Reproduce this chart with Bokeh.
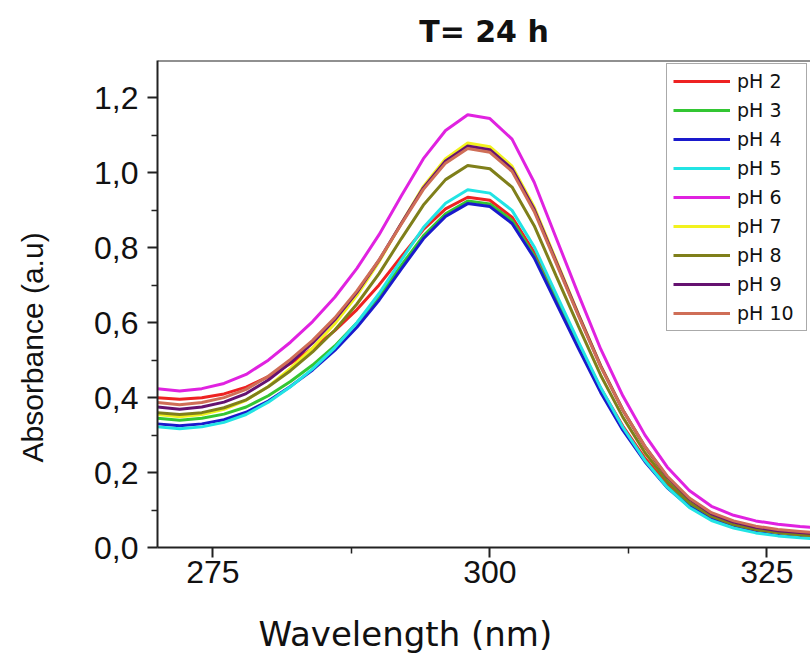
import math
from bokeh.plotting import figure
from bokeh.layouts import row, column
from bokeh.models import FixedTicker, CustomJSTickFormatter, Span, Range1d, Label
from bokeh.embed import file_html
from bokeh.resources import INLINE

# ---- data ----
wavelength = [270, 272, 274, 276, 278, 280, 282, 284, 286, 288, 290, 292, 294, 296, 298,
              300, 302, 304, 306, 308, 310, 312, 314, 316, 318, 320, 322, 324, 326, 328, 330]

ph2 = [0.400, 0.396, 0.400, 0.410, 0.428, 0.456, 0.491, 0.531, 0.579, 0.635, 0.701, 0.776, 0.849, 0.904, 0.935,
       0.927, 0.882, 0.788, 0.666, 0.544, 0.425, 0.324, 0.238, 0.169, 0.117, 0.083, 0.064, 0.051, 0.044, 0.039, 0.035]
ph3 = [0.345, 0.340, 0.345, 0.356, 0.375, 0.405, 0.443, 0.487, 0.538, 0.600, 0.671, 0.753, 0.832, 0.891, 0.925,
       0.917, 0.873, 0.779, 0.658, 0.536, 0.418, 0.317, 0.232, 0.163, 0.112, 0.078, 0.058, 0.046, 0.039, 0.034, 0.030]
ph4 = [0.330, 0.325, 0.330, 0.341, 0.361, 0.391, 0.430, 0.474, 0.526, 0.588, 0.660, 0.743, 0.824, 0.884, 0.918,
       0.910, 0.865, 0.773, 0.652, 0.531, 0.414, 0.313, 0.229, 0.160, 0.109, 0.076, 0.056, 0.044, 0.037, 0.032, 0.028]
ph5 = [0.322, 0.317, 0.322, 0.334, 0.355, 0.388, 0.429, 0.477, 0.533, 0.600, 0.678, 0.767, 0.854, 0.919, 0.955,
       0.946, 0.900, 0.803, 0.676, 0.549, 0.427, 0.321, 0.232, 0.161, 0.107, 0.072, 0.052, 0.039, 0.031, 0.026, 0.022]
ph6 = [0.424, 0.418, 0.424, 0.438, 0.462, 0.500, 0.548, 0.603, 0.668, 0.745, 0.835, 0.938, 1.038, 1.113, 1.155,
       1.145, 1.090, 0.975, 0.825, 0.675, 0.530, 0.405, 0.300, 0.215, 0.152, 0.110, 0.086, 0.071, 0.062, 0.056, 0.051]
ph7 = [0.355, 0.349, 0.355, 0.369, 0.393, 0.430, 0.478, 0.533, 0.597, 0.673, 0.763, 0.865, 0.964, 1.038, 1.080,
       1.070, 1.018, 0.909, 0.766, 0.623, 0.486, 0.367, 0.267, 0.186, 0.126, 0.086, 0.063, 0.049, 0.040, 0.035, 0.030]
ph8 = [0.360, 0.355, 0.360, 0.373, 0.394, 0.429, 0.472, 0.522, 0.580, 0.650, 0.731, 0.824, 0.914, 0.982, 1.020,
       1.011, 0.962, 0.859, 0.724, 0.590, 0.460, 0.348, 0.253, 0.177, 0.121, 0.083, 0.061, 0.048, 0.040, 0.034, 0.030]
ph9 = [0.375, 0.369, 0.375, 0.388, 0.411, 0.447, 0.493, 0.546, 0.608, 0.681, 0.767, 0.865, 0.960, 1.032, 1.072,
       1.062, 1.011, 0.903, 0.762, 0.621, 0.485, 0.367, 0.269, 0.189, 0.130, 0.090, 0.068, 0.054, 0.045, 0.040, 0.035]
ph10 = [0.387, 0.381, 0.387, 0.400, 0.422, 0.457, 0.502, 0.553, 0.613, 0.685, 0.768, 0.863, 0.956, 1.026, 1.065,
        1.055, 1.004, 0.897, 0.758, 0.618, 0.483, 0.367, 0.270, 0.191, 0.132, 0.093, 0.071, 0.057, 0.048, 0.043, 0.038]

series_labels = ["pH 2", "pH 3", "pH 4", "pH 5", "pH 6", "pH 7", "pH 8", "pH 9", "pH 10"]
series_values = [ph2, ph3, ph4, ph5, ph6, ph7, ph8, ph9, ph10]
series_colors = ["#ee2222", "#33c633", "#1a1acc", "#22e4e4", "#e022e0",
                 "#f2f21e", "#7f7f1a", "#651270", "#cf6e57"]

x_major_ticks = [275, 300, 325]
x_minor_ticks = [287.5, 312.5]
y_major_ticks = [0.0, 0.2, 0.4, 0.6, 0.8, 1.0, 1.2]
y_minor_ticks = [0.1, 0.3, 0.5, 0.7, 0.9, 1.1]
x_start, x_end = 270, 328.94
y_start, y_end = 0, 1.3

title_text = "T= 24 h"
x_label_text = "Wavelength  (nm)"
y_label_text = "Absorbance (a.u)"

FONT = "Liberation Sans"
WIDE = "DejaVu Sans"

# ---- layout sizes (pixels) ----
SIDE_W = 50            # strip holding the y-axis title
MAIN_W, MAIN_H = 760, 600
B_TOP, B_BOTTOM, B_LEFT = 60, 53, 107
BOTTOM_W, BOTTOM_H = 810, 54   # strip holding the x-axis title
PX_Y = (MAIN_H - B_TOP - B_BOTTOM) / (y_end - y_start)

# ---- main chart ----
p = figure(width=MAIN_W, height=MAIN_H, output_backend="svg", toolbar_location=None,
           x_range=Range1d(x_start, x_end), y_range=Range1d(y_start, y_end),
           min_border_left=B_LEFT, min_border_right=0,
           min_border_top=B_TOP, min_border_bottom=B_BOTTOM)

p.background_fill_color = "white"
p.border_fill_color = "white"
p.outline_line_color = None
p.xgrid.grid_line_color = None
p.ygrid.grid_line_color = None

p.title.text = title_text
p.title.align = "center"
p.title.text_font = WIDE
p.title.text_font_size = "30px"
p.title.text_font_style = "bold"
p.title.text_color = "#111111"
p.title.standoff = 23

for lab, vals, col in zip(series_labels, series_values, series_colors):
    p.line(wavelength, vals, line_color=col, line_width=3, legend_label=lab)

p.add_layout(Span(location=y_end, dimension="width", line_color="#222222", line_width=2))

for ax in (p.xaxis[0], p.yaxis[0]):
    ax.axis_line_color = "#222222"
    ax.axis_line_width = 2
    ax.major_tick_in = 0
    ax.major_tick_out = 10
    ax.minor_tick_in = 0
    ax.minor_tick_out = 6
    ax.major_tick_line_width = 2
    ax.minor_tick_line_width = 1.5
    ax.major_tick_line_color = "#222222"
    ax.minor_tick_line_color = "#222222"
    ax.major_label_text_font = FONT
    ax.major_label_text_font_size = "32px"
    ax.major_label_text_color = "#111111"
p.xaxis[0].major_label_standoff = 3
p.yaxis[0].major_label_standoff = 9

p.xaxis.ticker = FixedTicker(ticks=x_major_ticks, minor_ticks=x_minor_ticks)
p.yaxis.ticker = FixedTicker(ticks=y_major_ticks, minor_ticks=y_minor_ticks)
p.yaxis.formatter = CustomJSTickFormatter(code="return tick.toFixed(1).replace('.', ',');")

lg = p.legend[0]
lg.location = "top_right"
lg.margin = 3
lg.padding = 6
lg.spacing = 7
lg.glyph_width = 57
lg.glyph_height = 20
lg.label_height = 20
lg.label_width = 63
lg.label_standoff = 7
lg.label_text_font = WIDE
lg.label_text_font_size = "19px"
lg.label_text_color = "#111111"
lg.border_line_color = "#555555"
lg.border_line_width = 1
lg.background_fill_color = "white"
lg.background_fill_alpha = 1.0

# ---- strip with the y-axis title (same vertical data scale as the chart) ----
side = figure(width=SIDE_W, height=MAIN_H, output_backend="svg", toolbar_location=None,
              x_range=Range1d(0, SIDE_W), y_range=Range1d(y_start, y_end),
              x_axis_type=None, y_axis_type=None,
              min_border_left=0, min_border_right=0,
              min_border_top=B_TOP, min_border_bottom=B_BOTTOM)
side.outline_line_color = None
side.border_fill_color = "white"
side.background_fill_color = "white"
side.add_layout(Label(x=48, y=(MAIN_H - B_BOTTOM - 462) / PX_Y, text=y_label_text,
                      angle=math.pi / 2, text_align="left", text_baseline="bottom",
                      text_font=FONT, text_font_size="30px", text_color="#111111"))

# ---- strip with the x-axis title (pixel coordinates) ----
bottom = figure(width=BOTTOM_W, height=BOTTOM_H, output_backend="svg", toolbar_location=None,
                x_range=Range1d(0, BOTTOM_W), y_range=Range1d(0, BOTTOM_H),
                x_axis_type=None, y_axis_type=None, min_border=0)
bottom.outline_line_color = None
bottom.border_fill_color = "white"
bottom.background_fill_color = "white"
bottom.add_layout(Label(x=258, y=1, text=x_label_text,
                        text_align="left", text_baseline="bottom",
                        text_font=WIDE, text_font_size="34px", text_color="#111111"))

layout = column(row(side, p), row(bottom))

open("out.html", "w").write(file_html(layout, INLINE))
